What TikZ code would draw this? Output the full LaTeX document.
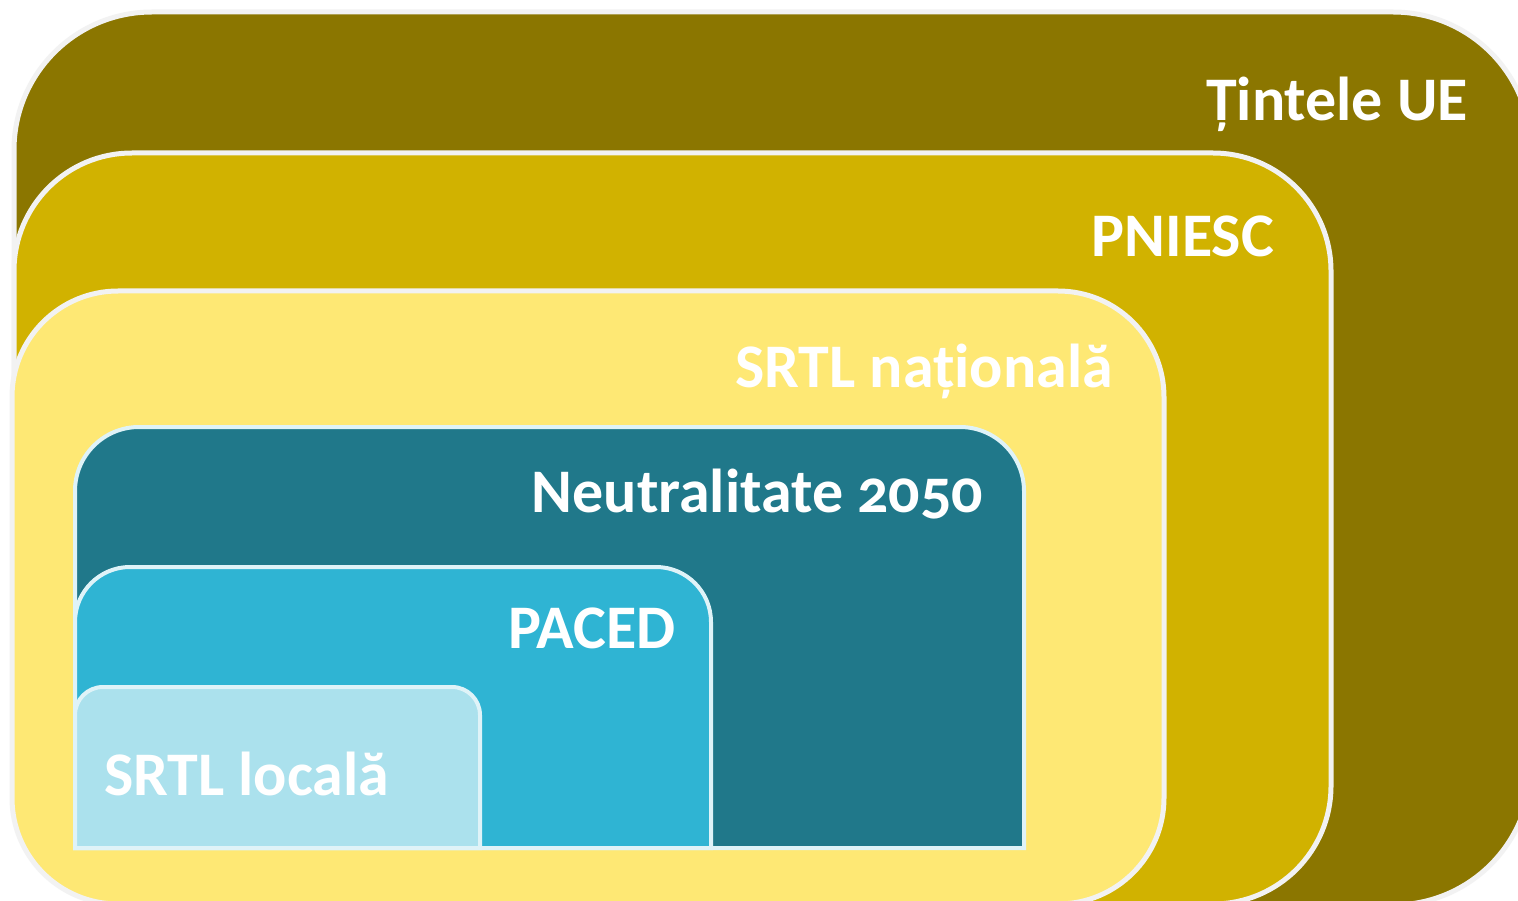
\documentclass[tikz,border=0pt]{standalone}
\usepackage{fontspec}
\setmainfont{Carlito}[Numbers=OldStyle]
\usepackage{xcolor}
\usepackage{tikz}
\usetikzlibrary{positioning}

\definecolor{euolive}{HTML}{8B7600}
\definecolor{pniescgold}{HTML}{D1B200}
\definecolor{natyellow}{HTML}{FEE874}
\definecolor{neutralteal}{HTML}{20788A}
\definecolor{pacedcyan}{HTML}{2FB4D3}
\definecolor{locallight}{HTML}{ABE1ED}
\definecolor{rimgray}{HTML}{F2F2F2}
\definecolor{rimblue}{HTML}{DFF3F8}

\begin{document}
\begin{tikzpicture}[x=1pt, y=-1pt]
    \tikzstyle{frame} = [draw=rimgray, line width=5pt]
    \tikzstyle{inner} = [draw=rimblue, line width=4pt]
    \tikzstyle{lbl} = [text=white, font=\fontsize{62}{70}\selectfont\bfseries, inner sep=0pt, anchor=base east]

    \clip (0,0) rectangle (1518,901);
    \fill [white] (0,0) rectangle (1518,901);

    % outer levels
    \draw [frame, fill=euolive, rounded corners=138pt] (14,12) rectangle (1531,905);
    \draw [frame, fill=pniescgold, rounded corners=118pt] (14,153) rectangle (1331,904);
    \draw [frame, fill=natyellow, rounded corners=106pt] (12,291) rectangle (1164,904);

    % inner levels, rounded on top only
    \draw [inner, fill=neutralteal] (75,848) [rounded corners=64pt] -- (75,427) -- (1024,427) [sharp corners] -- (1024,848) -- cycle;
    \draw [inner, fill=pacedcyan] (75,848) [rounded corners=55pt] -- (75,567) -- (711,567) [sharp corners] -- (711,848) -- cycle;
    \draw [inner, fill=locallight] (75,848) [rounded corners=28pt] -- (75,687) -- (480,687) [sharp corners] -- (480,848) -- cycle;

    \node [lbl] (eu) at (1468,121) {Țintele UE};
    \node [lbl] (pniesc) at (1274,257) {PNIESC};
    \node [lbl] (srtlnat) at (1113,387) {SRTL națională};
    \node [lbl] (neutral) at (983,512) {Neutralitate 2050};
    \node [lbl] (paced) at (676,648) {PACED};
    \node [lbl, anchor=base west] (srtlloc) at (104,795) {SRTL locală};
\end{tikzpicture}
\end{document}
